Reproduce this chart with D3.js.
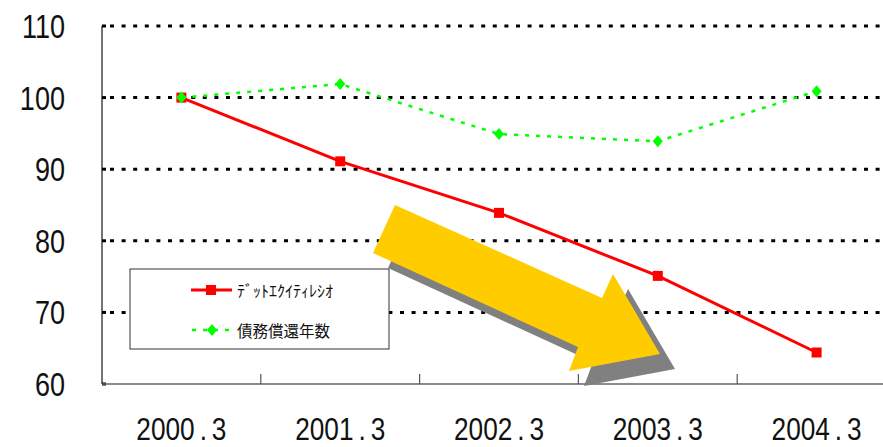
<!DOCTYPE html>
<html>
<head>
<meta charset="utf-8">
<script src="https://cdn.jsdelivr.net/npm/d3@7"></script>
<style>
  body { margin: 0; background: #fff; }
  svg { display: block; }
</style>
</head>
<body>
<svg width="883" height="447"></svg>
<script>
// chart values
var categories = ['2000.3', '2001.3', '2002.3', '2003.3', '2004.3'];
var debtEquity = [100, 91.1, 83.9, 75.1, 64.4];
var repaymentYears = [100, 101.9, 94.9, 93.9, 100.9];
var yTicks = [60, 70, 80, 90, 100, 110];
var seriesNames = ['ﾃﾞｯﾄｴｸｲﾃｨﾚｼｵ', '債務償還年数'];

var svg = d3.select('svg');
var W = +svg.attr('width');

var plot = {l: 102, r: 896, t: 26, b: 384};

var x = d3.scaleBand().domain(categories).range([plot.l, plot.r]);
var y = d3.scaleLinear().domain([60, 110]).range([plot.b, plot.t]);
var cx = function(c) { return x(c) + x.bandwidth() / 2; };

// no narrow font installed, so squeeze Liberation Sans horizontally
var numFont = '"Liberation Sans", Arial, sans-serif';
var squeeze = 0.82;

// dotted gridlines
svg.append('g').selectAll('line')
    .data(yTicks.filter(function(d) { return d > 60; }))
    .enter().append('line')
    .attr('x1', plot.l + 8).attr('x2', W)
    .attr('y1', function(d) { return y(d); })
    .attr('y2', function(d) { return y(d); })
    .attr('stroke', '#000').attr('stroke-width', 3)
    .attr('stroke-dasharray', '4,7.6');

// y axis
svg.append('line')
    .attr('x1', plot.l).attr('x2', plot.l)
    .attr('y1', plot.t).attr('y2', plot.b)
    .attr('stroke', '#444').attr('stroke-width', 1.5);
svg.append('g').selectAll('line')
    .data(yTicks)
    .enter().append('line')
    .attr('x1', plot.l).attr('x2', plot.l + 4)
    .attr('y1', function(d) { return y(d); })
    .attr('y2', function(d) { return y(d); })
    .attr('stroke', '#000').attr('stroke-width', 3);
svg.append('g').selectAll('text')
    .data(yTicks)
    .enter().append('text')
    .attr('transform', function(d) { return 'translate(65,' + (y(d) + 12) + ') scale(' + squeeze + ',1)'; })
    .attr('text-anchor', 'end')
    .style('font-family', numFont)
    .style('font-size', '33px')
    .attr('fill', '#111')
    .text(function(d) { return d; });

// x axis
svg.append('line')
    .attr('x1', plot.l).attr('x2', W)
    .attr('y1', plot.b).attr('y2', plot.b)
    .attr('stroke', '#666').attr('stroke-width', 1.5);
svg.append('g').selectAll('line')
    .data(categories.slice(1))
    .enter().append('line')
    .attr('x1', function(d) { return x(d); })
    .attr('x2', function(d) { return x(d); })
    .attr('y1', plot.b - 10).attr('y2', plot.b)
    .attr('stroke', '#555').attr('stroke-width', 1.2);
var xl = svg.append('g').selectAll('text')
    .data(categories)
    .enter().append('text')
    .attr('transform', function(d) { return 'translate(' + cx(d) + ',440) scale(' + squeeze + ',1)'; })
    .attr('text-anchor', 'middle')
    .style('font-family', numFont)
    .style('font-size', '32px')
    .attr('fill', '#111');
xl.append('tspan').text(function(d) { return d.split('.')[0]; });
xl.append('tspan').attr('dx', 6).text('.');
xl.append('tspan').attr('dx', 6).text(function(d) { return d.split('.')[1]; });

// series lines
var line = d3.line()
    .x(function(d, i) { return cx(categories[i]); })
    .y(function(d) { return y(d); });

svg.append('path')
    .datum(debtEquity)
    .attr('d', line)
    .attr('fill', 'none')
    .attr('stroke', '#ff0000')
    .attr('stroke-width', 3);
svg.append('g').selectAll('rect')
    .data(debtEquity)
    .enter().append('rect')
    .attr('x', function(d, i) { return cx(categories[i]) - 5; })
    .attr('y', function(d) { return y(d) - 5; })
    .attr('width', 10).attr('height', 10)
    .attr('fill', '#ff0000');

svg.append('path')
    .datum(repaymentYears)
    .attr('d', line)
    .attr('fill', 'none')
    .attr('stroke', '#00ff00')
    .attr('stroke-width', 2.5)
    .attr('stroke-dasharray', '4,7');
function diamond(px, py) {
    return 'M' + px + ',' + (py - 6) + 'L' + (px + 5) + ',' + py +
        'L' + px + ',' + (py + 6) + 'L' + (px - 5) + ',' + py + 'Z';
}
svg.append('g').selectAll('path')
    .data(repaymentYears)
    .enter().append('path')
    .attr('d', function(d, i) { return diamond(cx(categories[i]), y(d)); })
    .attr('fill', '#00ff00');

// legend
var lg = svg.append('g');
lg.append('rect')
    .attr('x', 130).attr('y', 269)
    .attr('width', 259).attr('height', 80)
    .attr('fill', '#fff').attr('stroke', '#333').attr('stroke-width', 1);
lg.append('line')
    .attr('x1', 191).attr('x2', 232).attr('y1', 290).attr('y2', 290)
    .attr('stroke', '#ff0000').attr('stroke-width', 3);
lg.append('rect')
    .attr('x', 206).attr('y', 285).attr('width', 10).attr('height', 10)
    .attr('fill', '#ff0000');
lg.append('line')
    .attr('x1', 192).attr('x2', 232).attr('y1', 330).attr('y2', 330)
    .attr('stroke', '#00ff00').attr('stroke-width', 2.5)
    .attr('stroke-dasharray', '4,7');
lg.append('path')
    .attr('d', diamond(212, 330))
    .attr('fill', '#00ff00');
lg.selectAll('text')
    .data(seriesNames)
    .enter().append('text')
    .attr('x', 237)
    .attr('y', function(d, i) { return 297 + i * 40; })
    .style('font-family', '"Noto Sans CJK JP", sans-serif')
    .style('font-size', function(d, i) { return i === 0 ? '16px' : '15.5px'; })
    .attr('fill', '#111')
    .text(function(d) { return d; });

// decorative down-trend arrow with shadow
var arrowPts = [[395, 205], [602, 298], [613, 274], [660, 354], [569, 371], [578, 347], [373, 253]];
var arrowPath = 'M' + arrowPts.join('L') + 'Z';
svg.append('path')
    .attr('d', arrowPath)
    .attr('transform', 'translate(15,15)')
    .attr('fill', '#808080');
svg.append('path')
    .attr('d', arrowPath)
    .attr('fill', '#ffcc00');
</script>
</body>
</html>
